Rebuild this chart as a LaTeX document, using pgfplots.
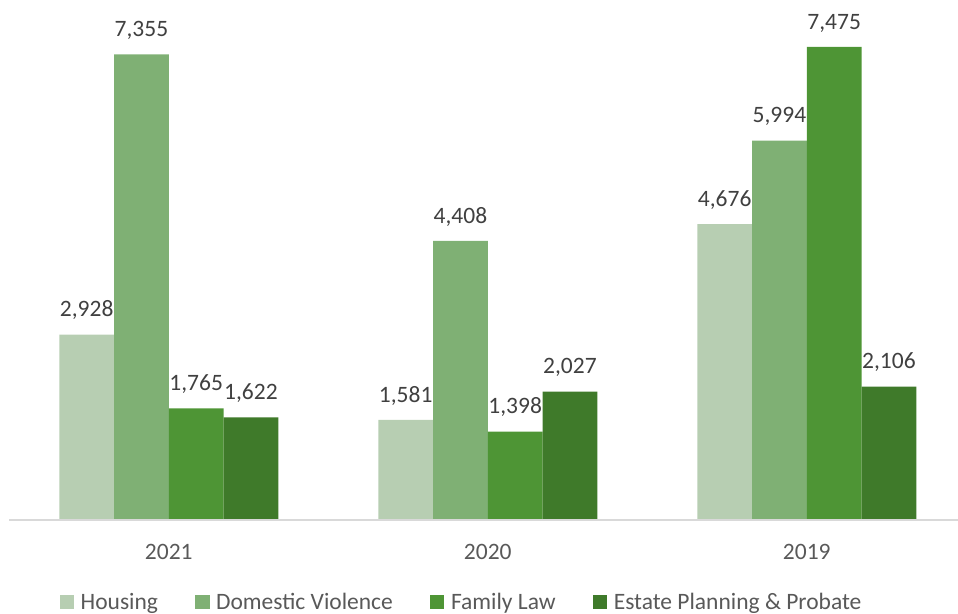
\documentclass[border=0pt]{standalone}
\usepackage{fontspec}
\setmainfont{Carlito}
\usepackage{pgfplots}
\pgfplotsset{compat=1.18}
\definecolor{cH}{HTML}{B7CEB2}
\definecolor{cDV}{HTML}{7FB074}
\definecolor{cFL}{HTML}{4E9535}
\definecolor{cEP}{HTML}{3F7A2A}
\definecolor{c40}{HTML}{404040}
\definecolor{c59}{HTML}{595959}
\definecolor{cAx}{HTML}{D9D9D9}
\newcommand{\ff}{\fontsize{23.5bp}{28bp}\selectfont}
\begin{document}
\begin{tikzpicture}
\begin{axis}[
  scale only axis, width=948.7bp, height=520bp,
  xmin=-0.5, xmax=2.474, ymin=0, ymax=8215,
  enlargelimits=false, clip=false,
  ybar=0pt, bar width=54.75bp,
  axis line style={draw=none},
  ytick=\empty,
  xtick={0,1,2}, xticklabels={2021,2020,2019},
  major tick length=0pt,
  xticklabel style={font=\ff, color=c59, anchor=south, inner sep=0pt, text depth=0pt, yshift=-40bp},
  /pgf/number format/1000 sep={,},
  /pgf/number format/assume math mode=true,
  nodes near coords,
  nodes near coords style={font=\ff, color=c40, anchor=south, inner sep=0pt, text depth=0pt, yshift=17.5bp},
  legend columns=4,
  legend style={draw=none, font=\ff, text=c59, at={(0.4756,-0.1567)}, anchor=center,
    cells={anchor=base},
    nodes={inner sep=0pt, text depth=0pt},
    /tikz/every odd column/.append style={column sep=6.6bp},
    /tikz/every even column/.append style={column sep=37bp}},
  legend image code/.code={\fill[#1,draw=none] (0bp,0.5bp) rectangle (14.5bp,15bp);},
]
\addplot[fill=cH, draw=none] coordinates {(0,2928) (1,1581) (2,4676)};
\addplot[fill=cDV, draw=none] coordinates {(0,7355) (1,4408) (2,5994)};
\addplot[fill=cFL, draw=none] coordinates {(0,1765) (1,1398) (2,7475)};
\addplot[fill=cEP, draw=none] coordinates {(0,1622) (1,2027) (2,2106)};
\legend{Housing, Domestic Violence, Family Law, Estate Planning \& Probate}
\draw[cAx, line width=1.5bp] (rel axis cs:0,0) -- (rel axis cs:1,0);
\end{axis}
\pgfresetboundingbox
\path[use as bounding box] (-9.3bp,-94bp) rectangle (948.7bp,520bp);
\end{tikzpicture}
\end{document}
